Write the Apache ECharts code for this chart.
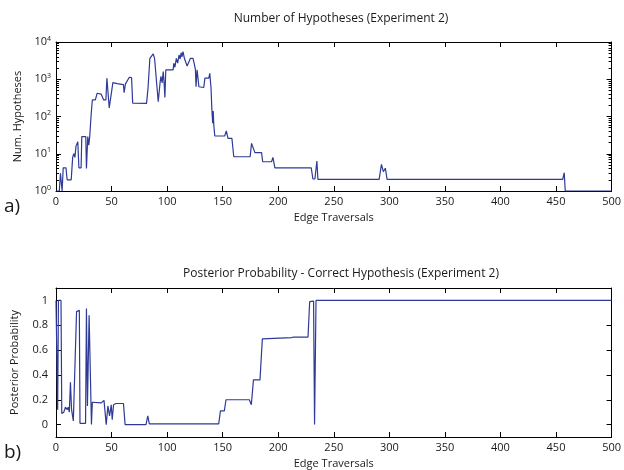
<!DOCTYPE html>
<html><head><meta charset="utf-8">
<script src="https://cdn.jsdelivr.net/npm/echarts@6/dist/echarts.min.js"></script>
<style>html,body{margin:0;padding:0;background:#fff}#c{width:624px;height:470px}</style>
</head><body><div id="c"></div>
<script>
// ---- data ----
const titleTop = 'Number of Hypotheses (Experiment 2)';
const titleBottom = 'Posterior Probability - Correct Hypothesis (Experiment 2)';
const xName = 'Edge Traversals';
const yNameTop = 'Num. Hypotheses';
const yNameBottom = 'Posterior Probability';
const probTickValues = [0, 0.2, 0.4, 0.6, 0.8, 1];

// [edge traversal, number of hypotheses]
const hypothesesData = [
[0,1],[3,1],[4,3],[5,3],[5.5,1],[6,1],[6.5,4.2],[9,4.2],[10,2],[13.7,2],[15,8],[16,10],[17,8],[18,16],
[19.6,21],[20.2,21],[20.6,4.2],[22.6,4.2],[23.2,29],[26.8,29],[27.4,4],[28.6,29],[29.5,17],[30.4,30],
[31.5,100],[32.7,278],[35.4,278],[37,420],[40.6,400],[42.9,278],[44.9,278],[45.8,1070],[47.9,170],
[51.2,810],[55,760],[60.7,720],[61.3,435],[62.5,750],[64,700],[66,1130],[68,1100],[69,230],[81.5,225],
[82.8,570],[84.5,3650],[86,3500],[87.5,4800],[88.7,3650],[92,250],[93.75,860],[94.5,1200],[95.5,800],
[96.5,1600],[97.3,800],[98,325],[98.8,1780],[105.4,1780],[106,2690],[107,2100],[108.3,3650],[109.5,2700],
[110.7,4470],[111.7,3500],[112.6,5150],[113.3,4000],[114.3,5500],[115.6,3600],[116.8,3700],[118,2270],
[119.7,2200],[121,3650],[123.3,3650],[124.3,2700],[125.5,1800],[126,630],[127,1780],[128.6,630],[133,600],
[134,1070],[137.5,1070],[138.4,1440],[139.5,600],[140.3,150],[141,66],[141.5,140],[142,60],[142.9,30],
[151.8,30],[153.3,41],[154.8,26],[158.3,26],[160,8.3],[174.7,8.3],[176,19],[177.5,19],[179,10.7],
[185,10.7],[186,6.1],[194,6.1],[195.2,8],[197,4.2],[229.7,4.2],[231.2,2.1],[233,2.1],[234.8,6.4],
[235.7,2.06],[290.8,2.06],[292.9,5.2],[294.6,3.3],[296.4,4.1],[298,2.06],[456,2.06],[457.4,3.1],
[458.3,1],[500,1]
];

// [edge traversal, posterior probability]
const probabilityData = [
[0,1],[1,1],[1.5,0.12],[2.2,1],[4.5,1],[5.2,0.09],[7,0.1],[8.5,0.14],[10,0.12],[11,0.14],[12,0.1],
[13,0.34],[14,0.12],[15.6,0.03],[17,0.02],[18.5,0.91],[21,0.92],[21.6,0.01],[26.6,0.01],[27.4,0.935],
[28.3,0.15],[29.8,0.88],[31.9,0],[32.7,0.18],[40.8,0.175],[43.2,0.195],[45.2,0],[46.7,0.15],[48.2,0.07],
[49.7,0.16],[50.6,0.04],[51.8,0.16],[54,0.17],[60.7,0.17],[62.2,0],[81,0],[82.6,0.07],[84,0.005],
[146.4,0.005],[148,0.11],[151.5,0.11],[153,0.2],[174,0.2],[175.8,0.16],[177.7,0.36],[183.6,0.36],
[185.7,0.69],[212,0.70],[214,0.705],[226.8,0.705],[228.3,0.99],[231.8,0.995],[232.7,0],[234,1],[500,1]
];

// ---- chart ----
const FONT = 'Open Sans';
const TXT = '#1a1a1a';
const LINE = '#2e3a96';
const chart = echarts.init(document.getElementById('c'), null, {renderer:'canvas'});

function xAx(grid, pos, labels) {
  return {
    gridIndex: grid, type: 'value', min: 0, max: 500, interval: 50, position: pos,
    axisLine: {onZero: false, lineStyle: {color: '#000', width: 1}},
    axisTick: {inside: true, length: 5, lineStyle: {color: '#000'}},
    axisLabel: {show: labels, color: TXT, fontSize: 11, fontFamily: FONT, margin: 5},
    splitLine: {show: false},
    name: labels ? xName : '', nameLocation: 'middle', nameGap: 21,
    nameTextStyle: {color: TXT, fontSize: 11, fontFamily: FONT}
  };
}
function yLog(pos, labels) {
  return {
    gridIndex: 0, type: 'log', logBase: 10, min: 1, max: 10000, splitNumber: 4, position: pos,
    axisLine: {onZero: false, lineStyle: {color: '#000', width: 1}},
    axisTick: {inside: true, length: 5, lineStyle: {color: '#000'}},
    minorTick: {show: true, splitNumber: 9, length: 3, lineStyle: {color: '#000'}},
    axisLabel: {
      show: labels, margin: 5,
      formatter: v => '{b|10}{s|' + Math.round(Math.log10(v)) + '}',
      rich: {
        b: {fontSize: 11, color: TXT, fontFamily: FONT},
        s: {fontSize: 7, color: TXT, fontFamily: FONT, verticalAlign: 'bottom', padding: [0, 0, 7, 0]}
      }
    },
    splitLine: {show: false}, minorSplitLine: {show: false},
    name: labels ? yNameTop : '', nameLocation: 'middle', nameGap: 32,
    nameTextStyle: {color: TXT, fontSize: 11, fontFamily: FONT}
  };
}
function yProb(pos, labels) {
  return {
    gridIndex: 1, type: 'value', min: -0.1, max: 1.1, position: pos,
    axisLine: {onZero: false, lineStyle: {color: '#000', width: 1}},
    axisTick: {inside: true, length: 5, customValues: probTickValues, lineStyle: {color: '#000'}},
    axisLabel: {show: labels, customValues: probTickValues, color: TXT, fontSize: 11, fontFamily: FONT, margin: 8},
    splitLine: {show: false},
    name: labels ? yNameBottom : '', nameLocation: 'middle', nameGap: 36,
    nameTextStyle: {color: TXT, fontSize: 11, fontFamily: FONT}
  };
}

const option = {
  animation: false,
  backgroundColor: '#fff',
  title: [
    {text: titleTop, left: 336, top: 8, textAlign: 'center',
     textStyle: {fontSize: 12, fontWeight: 'normal', color: TXT, fontFamily: FONT}},
    {text: titleBottom, left: 336, top: 263, textAlign: 'center',
     textStyle: {fontSize: 12, fontWeight: 'normal', color: TXT, fontFamily: FONT}}
  ],
  graphic: [
    {type: 'text', left: 4, top: 197, style: {text: 'a)', fontSize: 19, fill: TXT, fontFamily: FONT}},
    {type: 'text', left: 4, top: 443, style: {text: 'b)', fontSize: 19, fill: TXT, fontFamily: FONT}}
  ],
  grid: [
    {left: 56, right: 8, top: 42, height: 149},
    {left: 56, right: 8, top: 288, height: 149}
  ],
  xAxis: [xAx(0, 'bottom', true), xAx(0, 'top', false), xAx(1, 'bottom', true), xAx(1, 'top', false)],
  yAxis: [yLog('left', true), yLog('right', false), yProb('left', true), yProb('right', false)],
  series: [
    {type: 'line', xAxisIndex: 0, yAxisIndex: 0, data: hypothesesData, showSymbol: false,
     lineStyle: {color: LINE, width: 1.2}, clip: true},
    {type: 'line', xAxisIndex: 2, yAxisIndex: 2, data: probabilityData, showSymbol: false,
     lineStyle: {color: LINE, width: 1.2}, clip: true}
  ]
};
chart.setOption(option);
</script></body></html>
